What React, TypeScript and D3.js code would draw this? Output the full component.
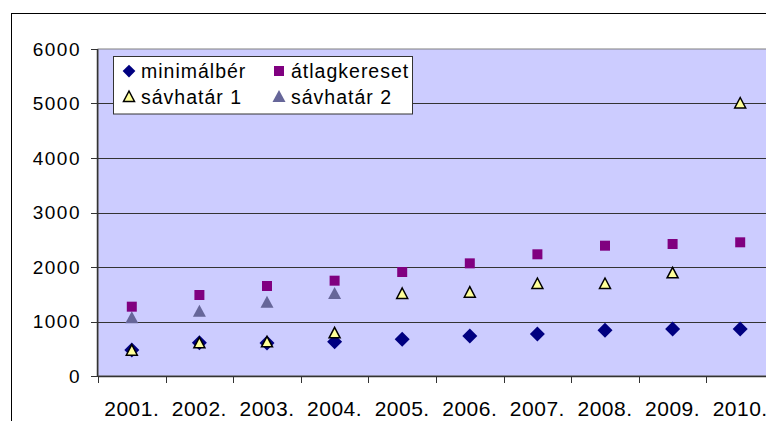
import React from "react";
import * as d3 from "d3";

// chart values
const years = ["2001.", "2002.", "2003.", "2004.", "2005.", "2006.", "2007.", "2008.", "2009.", "2010."];
const minimalber = [477, 611, 605, 630, 673, 734, 771, 838, 862, 862];
const atlagkereset = [1272, 1486, 1651, 1749, 1908, 2067, 2233, 2391, 2422, 2453];
const savhatar1 = [464, 600, 618, 783, 1505, 1529, 1688, 1688, 1884, 5000];
const savhatar2 = [1058, 1180, 1345, 1505];
const yTicks = [0, 1000, 2000, 3000, 4000, 5000, 6000];

const width = 766;
const height = 421;
const plotLeft = 98;
const plotRight = 774;
const plotTop = 49;
const plotBottom = 376;
const font = "'Liberation Sans', Arial, sans-serif";

const x = d3.scaleBand<string>().domain(years).range([plotLeft, plotRight]);
const y = d3.scaleLinear().domain([0, 6000]).range([plotBottom, plotTop]);
const cx = (i: number) => (x(years[i]) as number) + x.bandwidth() / 2;

const diamond = "M0,-7.5L7.5,0L0,7.5L-7.5,0Z";
const square = "M-5,-5H5V5H-5Z";
const tri1 = "M0,-6L5.5,4.5H-5.5Z";
const tri2 = "M0,-7L6.5,5H-6.5Z";

export default function App() {
  return (
    <div style={{ position: "fixed", left: 0, top: 0 }}>
      <svg width={width} height={height} style={{ display: "block", fontFamily: font }}>
        <rect x={0} y={0} width={width} height={height} fill="#fff" />
        <rect x={11.5} y={13.5} width={900} height={600} fill="none" stroke="#000" strokeWidth={1} />

        {/* plot area */}
        <rect x={plotLeft} y={plotTop} width={plotRight - plotLeft} height={plotBottom - plotTop} fill="#ccccff" stroke="#808080" />
        {yTicks.slice(1, -1).map(t => (
          <line key={t} x1={plotLeft} x2={plotRight} y1={Math.round(y(t)) + 0.5} y2={Math.round(y(t)) + 0.5} stroke="#333" />
        ))}

        {/* axes */}
        <line x1={plotLeft - 0.5} x2={plotLeft - 0.5} y1={plotTop} y2={plotBottom} stroke="#333" strokeWidth={1.5} />
        <line x1={plotLeft} x2={plotRight} y1={plotBottom + 0.5} y2={plotBottom + 0.5} stroke="#333" strokeWidth={1.5} />
        {yTicks.map(t => (
          <g key={t}>
            <line x1={91} x2={plotLeft} y1={Math.round(y(t)) + 0.5} y2={Math.round(y(t)) + 0.5} stroke="#333" />
            <text x={81} y={y(t) + 6.5} textAnchor="end" fontSize={19} letterSpacing={1.5} fill="#000">{t}</text>
          </g>
        ))}
        {years.map((yr, i) => (
          <g key={yr}>
            <line x1={Math.round(x(yr) as number) + 0.5} x2={Math.round(x(yr) as number) + 0.5} y1={plotBottom} y2={plotBottom + 7} stroke="#333" />
            <text x={cx(i)} y={416} textAnchor="middle" fontSize={21} letterSpacing={0.5} fill="#000">{yr}</text>
          </g>
        ))}

        {/* markers */}
        {savhatar2.map((v, i) => (
          <path key={"s2" + i} d={tri2} transform={`translate(${cx(i)},${y(v)})`} fill="#666699" />
        ))}
        {atlagkereset.map((v, i) => (
          <path key={"a" + i} d={square} transform={`translate(${cx(i)},${y(v)})`} fill="#800080" />
        ))}
        {minimalber.map((v, i) => (
          <path key={"m" + i} d={diamond} transform={`translate(${cx(i)},${y(v)})`} fill="#000080" />
        ))}
        {savhatar1.map((v, i) => (
          <path key={"s1" + i} d={tri1} transform={`translate(${cx(i)},${y(v)})`} fill="#ffff99" stroke="#000" strokeWidth={1.5} />
        ))}

        {/* legend */}
        <rect x={113.5} y={56.5} width={299} height={57.5} fill="#fff" stroke="#333" />
        <path d={diamond} transform="translate(129,71) scale(0.85)" fill="#000080" />
        <text x={141} y={77.5} fontSize={19.5} letterSpacing={1}>minimálbér</text>
        <path d={square} transform="translate(279,71)" fill="#800080" />
        <text x={291} y={77.5} fontSize={19.5} letterSpacing={1}>átlagkereset</text>
        <path d={tri1} transform="translate(129,97)" fill="#ffff99" stroke="#000" strokeWidth={1.5} />
        <text x={141} y={103.5} fontSize={19.5} letterSpacing={1}>sávhatár 1</text>
        <path d={tri2} transform="translate(279,97)" fill="#666699" />
        <text x={291} y={103.5} fontSize={19.5} letterSpacing={1}>sávhatár 2</text>
      </svg>
    </div>
  );
}
